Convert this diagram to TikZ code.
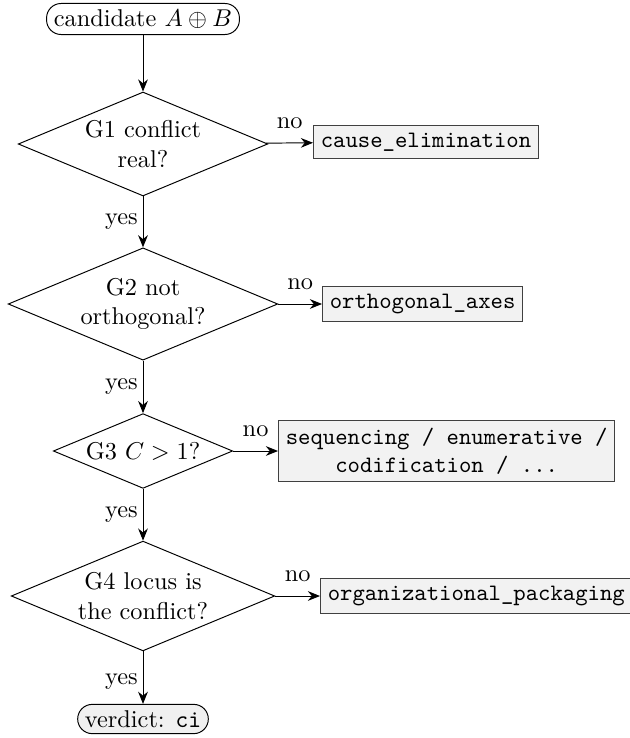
\documentclass[tikz,border=0pt]{standalone}
\usetikzlibrary{shapes.geometric,arrows.meta}
\begin{document}
\begin{tikzpicture}[x=0.4115pt,y=-0.4115pt,
  term/.style={draw, rounded corners=6pt, inner xsep=3pt, inner ysep=2.5pt},
  termfill/.style={term, fill=black!6},
  gate/.style={draw, diamond, aspect=2.4, inner sep=1.3pt, align=center},
  outbox/.style={draw=black!75, fill=black!5, inner xsep=3pt, inner ysep=3pt, anchor=west, align=center, font=\fontsize{9.7}{11.6}\selectfont\ttfamily},
  flow/.style={-{Stealth[length=5pt,width=4pt]}},
  lab/.style={inner sep=2pt}]
\useasboundingbox (0,0) rectangle (629,738);
\node[term] (start) at (143,19) {candidate $A \oplus B$};
\node[gate] (g1) at (143,144) {G1 conflict\\real?};
\node[gate] (g2) at (143,304) {G2 not\\orthogonal?};
\node[gate] (g3) at (143,451) {G3 $C > 1$?};
\node[gate] (g4) at (143,596) {G4 locus is\\the conflict?};
\node[termfill] (verdict) at (143,719) {verdict: \texttt{ci}};
\node[outbox] (o1) at (313,142) {cause\_elimination};
\node[outbox] (o2) at (322,304) {orthogonal\_axes};
\node[outbox] (o3) at (278,451) {sequencing / enumerative /\\codification / ...};
\node[outbox] (o4) at (320,596) {organizational\_packaging};
\draw[flow] (start) -- (g1);
\draw[flow] (g1) -- node[lab, left, pos=0.5] {yes} (g2);
\draw[flow] (g2) -- node[lab, left, pos=0.5] {yes} (g3);
\draw[flow] (g3) -- node[lab, left, pos=0.5] {yes} (g4);
\draw[flow] (g4) -- node[lab, left, pos=0.58] {yes} (verdict);
\draw[flow] (g1) -- node[lab, above=3.5pt] {no} (o1);
\draw[flow] (g2) -- node[lab, above=3.5pt] {no} (o2);
\draw[flow] (g3) -- node[lab, above=3.5pt] {no} (o3);
\draw[flow] (g4) -- node[lab, above=3.5pt] {no} (o4);
\end{tikzpicture}
\end{document}
